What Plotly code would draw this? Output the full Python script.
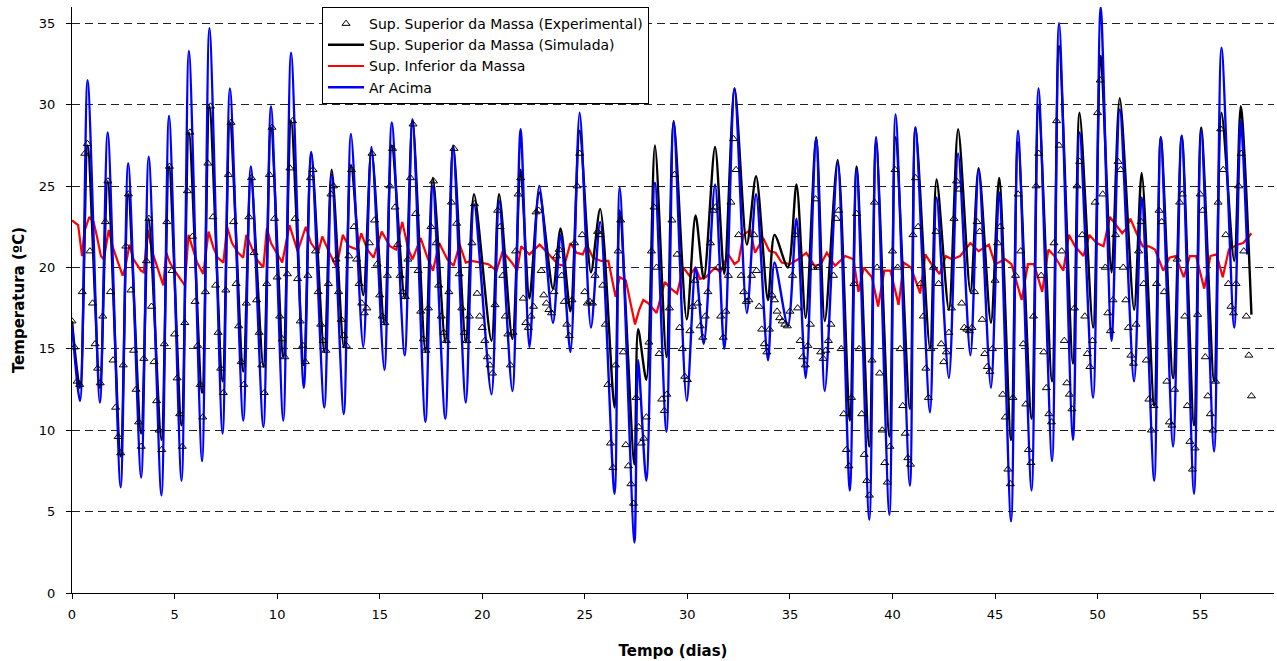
import plotly.graph_objects as go

# ---- cycle timing (days): trough before each daily peak, and the peak ----
trough_t = [0.39, 1.36, 2.37, 3.37, 4.36, 5.34, 6.34, 7.34, 8.35, 9.33,
            10.3, 11.3, 12.3, 13.25, 14.2, 15.23, 16.22, 17.23, 18.2, 19.2,
            20.45, 21.47, 22.3, 23.45, 24.3, 25.3, 26.45, 27.42, 28.0, 28.98,
            29.97, 30.8, 31.8, 32.9, 33.93, 34.9, 35.77, 36.7, 37.92, 38.87,
            39.85, 40.85, 41.83, 42.75, 43.8, 44.8, 45.78, 46.78, 47.78, 48.8,
            49.78, 50.68, 51.78, 52.76, 53.68, 54.7, 55.68, 56.66]
peak_t = [0.76, 1.74, 2.74, 3.74, 4.73, 5.70, 6.70, 7.70, 8.72, 9.70,
          10.68, 11.66, 12.66, 13.6, 14.6, 15.59, 16.6, 17.59, 18.58, 19.6,
          20.82, 21.87, 22.78, 23.82, 24.75, 25.75, 26.7, 27.6, 28.42, 29.33,
          30.4, 31.35, 32.3, 33.35, 34.25, 35.32, 36.28, 37.33, 38.25, 39.2,
          40.15, 41.12, 42.15, 43.2, 44.2, 45.2, 46.12, 47.12, 48.12, 49.12,
          50.15, 51.08, 52.15, 53.08, 54.1, 55.05, 56.04, 56.98]

# ---- Ar Acima (blue) ----
blue_start = (0.0, 16.5)
blue_end = (57.3, 20.8)
blue_trough = [11.8, 11.7, 6.5, 7.1, 6.0, 6.9, 8.1, 9.8, 10.6, 10.2,
               10.6, 12.6, 11.4, 11.0, 15.1, 13.7, 14.6, 10.5, 10.7, 11.7,
               12.2, 12.4, 15.1, 16.6, 14.8, 16.3, 6.1, 3.1, 6.9, 9.9,
               11.8, 15.3, 15.0, 17.2, 14.3, 16.4, 13.2, 12.4, 6.3, 4.5,
               4.8, 6.6, 11.1, 13.2, 14.6, 12.6, 4.4, 6.3, 8.1, 9.4,
               12.0, 15.5, 13.0, 6.9, 9.0, 6.1, 8.7, 16.3]
blue_peak = [31.5, 28.3, 26.4, 26.8, 29.3, 33.3, 34.7, 31.0, 26.2, 29.9,
             33.2, 27.1, 25.7, 28.2, 27.4, 28.9, 29.1, 25.0, 27.4, 23.9,
             24.1, 28.5, 25.0, 22.0, 29.5, 22.8, 24.9, 14.3, 25.2, 28.9,
             20.0, 25.1, 31.0, 24.5, 20.3, 23.0, 27.9, 26.4, 26.0, 28.0,
             29.4, 28.6, 24.3, 27.0, 26.0, 24.6, 28.4, 31.0, 35.0, 28.3,
             36.0, 29.7, 24.3, 28.0, 28.1, 28.4, 33.5, 29.0]

# ---- Sup. Superior da Massa (Simulada) (black) ----
black_start = (0.0, 16.7)
black_end = (57.5, 17.1)
black_trough = [12.6, 12.6, 8.4, 9.8, 9.4, 10.3, 12.3, 13.0, 13.6, 13.9,
                14.5, 14.0, 14.8, 15.1, 18.3, 16.5, 18.1, 14.8, 15.4, 15.4,
                15.5, 15.6, 18.1, 18.7, 17.3, 19.7, 11.4, 7.9, 13.1, 14.5,
                16.8, 19.3, 19.6, 21.4, 18.0, 20.0, 16.9, 16.7, 10.6, 9.0,
                9.6, 11.3, 15.0, 17.4, 18.5, 16.6, 9.4, 10.7, 13.0, 14.1,
                16.3, 19.7, 17.4, 11.5, 13.2, 10.3, 13.0, 20.4]
black_peak = [27.5, 25.3, 24.5, 23.0, 26.2, 28.3, 29.9, 28.9, 25.5, 28.6,
              29.0, 27.0, 26.0, 26.3, 27.2, 27.5, 29.0, 25.5, 27.5, 24.5,
              24.5, 26.0, 24.6, 22.4, 28.4, 23.6, 23.5, 16.2, 27.5, 29.0,
              23.2, 27.4, 31.0, 25.6, 22.0, 25.1, 28.0, 26.6, 26.2, 27.7,
              28.0, 28.6, 25.4, 28.5, 26.1, 25.5, 27.7, 29.9, 33.6, 29.5,
              33.0, 30.4, 25.8, 28.0, 28.1, 28.6, 29.5, 29.9]

# ---- Sup. Inferior da Massa (red) ----
red_t = [0.0, 0.3, 0.49, 0.6, 0.84, 1.05, 1.2, 1.41, 1.55, 1.79, 2.0, 2.2, 2.47, 2.6, 2.8,
         3.0, 3.36, 3.5, 3.69, 3.93, 4.2, 4.45, 4.6, 4.77, 5.0, 5.3, 5.5, 5.68, 5.9,
         6.1, 6.4, 6.55, 6.66, 6.9, 7.1, 7.38, 7.56, 7.8, 8.1, 8.35, 8.5, 8.7, 9.0,
         9.33, 9.5, 9.7, 10.0, 10.25, 10.6, 10.75, 11.0, 11.4, 11.65, 12.0, 12.2,
         12.55, 12.9, 13.2, 13.5, 13.9, 14.1, 14.4, 14.7, 15.1, 15.5, 15.8, 16.1,
         16.4, 16.6, 17.0, 17.3, 17.6, 17.9, 18.3, 18.6, 18.9, 19.2, 19.5, 19.9,
         20.3, 20.7, 21.0, 21.5, 21.7, 21.9, 22.3, 22.8, 23.3, 23.7, 24.0, 24.3,
         24.6, 24.9, 25.1, 25.4, 25.8, 26.15, 26.5, 26.7, 27.0, 27.2, 27.45, 27.65,
         27.85, 28.1, 28.5, 28.9, 29.2, 29.5, 29.8, 30.1, 30.4, 30.62, 30.9, 31.35,
         31.6, 32.0, 32.3, 32.5, 32.73, 33.06, 33.3, 33.7, 34.0, 34.3, 34.6, 35.0,
         35.4, 35.8, 36.2, 36.5, 36.8, 37.2, 37.7, 38.1, 38.34, 38.6, 39.0, 39.3,
         39.6, 39.9, 40.3, 40.55, 40.9, 41.35, 41.6, 41.9, 42.3, 42.6, 42.9, 43.3,
         43.8, 44.2, 44.7, 45.0, 45.5, 45.8, 46.3, 46.6, 46.9, 47.3, 47.6, 47.9,
         48.33, 48.6, 48.9, 49.31, 49.6, 49.95, 50.29, 50.6, 50.9, 51.2, 51.4, 51.6,
         51.9, 52.2, 52.5, 52.8, 53.2, 53.5, 53.8, 54.2, 54.5, 54.8, 55.2, 55.5,
         55.8, 56.1, 56.4, 56.8, 57.1, 57.5]
red_v = [22.9, 22.6, 20.7, 22.2, 23.1, 22.8, 22.0, 20.7, 20.5, 22.3, 21.2, 20.5, 19.5, 20.0, 21.4,
         20.5, 19.8, 19.7, 22.3, 20.9, 19.9, 18.9, 20.9, 20.3, 19.8, 19.3, 18.9, 22.0, 21.1,
         20.3, 19.6, 21.0, 22.2, 21.2, 20.6, 20.3, 22.5, 21.5, 20.9, 20.6, 22.0, 21.4, 20.5,
         20.0, 22.4, 21.5, 20.8, 20.3, 22.6, 22.0, 21.0, 22.5, 21.5, 20.9, 21.9,
         20.9, 20.0, 22.0, 21.3, 21.1, 22.1, 21.1, 20.6, 22.2, 21.3, 21.1, 22.8,
         21.1, 20.5, 21.8, 20.7, 19.8, 21.5, 20.5, 20.1, 21.4, 20.3, 20.4, 20.3,
         20.2, 19.8, 21.0, 20.2, 19.8, 21.3, 20.8, 21.4, 20.7, 20.2, 20.1, 21.5,
         20.9, 20.8, 21.4, 20.6, 20.4, 20.4, 18.2, 19.4, 19.2, 18.0, 16.5, 17.4,
         18.0, 17.8, 17.2, 19.1, 18.7, 18.4, 20.0, 19.5, 20.0, 19.3, 19.4, 20.0,
         19.7, 20.8, 20.2, 20.4, 22.0, 22.3, 20.9, 21.8, 21.0, 20.9, 20.3, 20.2,
         20.5, 20.9, 20.1, 20.2, 20.9, 20.1, 20.7, 20.5, 18.5, 20.0, 19.4, 17.6,
         19.8, 19.8, 17.7, 20.3, 20.0, 18.4, 20.8, 20.2, 19.6, 20.7, 20.5, 20.7,
         21.5, 21.0, 21.4, 20.2, 20.5, 20.2, 18.0, 20.2, 20.2, 18.5, 21.1, 20.7,
         19.8, 22.0, 21.3, 20.7, 22.0, 21.5, 21.3, 23.1, 22.6, 22.1, 22.4, 23.0,
         22.1, 21.3, 21.3, 21.1, 19.8, 20.6, 20.7, 19.4, 20.7, 20.7, 18.7, 20.7,
         20.8, 19.4, 21.1, 21.4, 21.5, 22.1]

# ---- Sup. Superior da Massa (Experimental): one list per day, samples every 3 h ----
exp_vals = [
    [16.7, 15.1, 13.0, 12.8, 18.5, 27.0, 27.6, 21.0],
    [17.8, 15.3, 13.8, 12.9, 17.0, 22.8, 25.3, 18.5],
    [14.3, 11.4, 9.6, 8.6, 14.0, 21.3, 24.5, 18.6],
    [14.9, 12.5, 10.5, 9.0, 14.4, 20.4, 23.0, 17.6],
    [14.2, 11.8, 10.0, 8.8, 15.3, 22.8, 26.2, 19.8],
    [15.9, 13.2, 11.0, 9.0, 16.6, 24.7, 28.3, 21.9],
    [17.9, 15.2, 12.8, 10.8, 18.5, 26.4, 29.9, 23.1],
    [18.9, 16.0, 13.8, 12.3, 18.6, 25.7, 28.9, 22.8],
    [19.0, 16.4, 14.2, 12.8, 17.8, 23.1, 25.5, 20.9],
    [18.0, 16.0, 14.0, 12.3, 19.0, 25.7, 28.6, 23.0],
    [19.4, 17.0, 15.6, 14.5, 19.6, 26.1, 29.0, 23.0],
    [19.3, 16.7, 15.2, 14.2, 19.5, 25.5, 26.0, 21.0],
    [18.5, 16.5, 15.5, 14.9, 19.0, 24.5, 25.0, 20.5],
    [18.5, 16.8, 15.8, 15.2, 20.7, 26.0, 22.5, 20.5],
    [19.0, 17.8, 17.2, 17.5, 21.5, 27.0, 22.9, 20.2],
    [18.3, 17.0, 16.6, 19.5, 25.0, 27.3, 23.7, 21.4],
    [19.5, 18.5, 18.2, 20.5, 25.5, 28.8, 23.3, 19.8],
    [17.3, 15.6, 14.9, 17.5, 22.5, 25.3, 21.5, 18.9],
    [17.0, 16.0, 15.5, 18.5, 24.0, 27.3, 22.7, 19.6],
    [17.5, 16.0, 15.5, 17.0, 21.5, 23.9, 18.4, 17.0],
    [16.3, 15.5, 14.5, 14.0, 13.5, 17.7, 23.5, 22.5],
    [19.5, 17.0, 15.9, 14.0, 16.0, 21.0, 24.5, 25.5],
    [18.1, 16.6, 16.3, 17.0, 17.6, 23.4, 23.5, 19.8],
    [18.3, 17.8, 17.4, 17.2, 18.5, 20.7, 21.1, 19.5],
    [17.9, 16.5, 15.8, 18.0, 21.5, 25.0, 27.0, 22.0],
    [18.5, 17.8, 17.9, 17.8, 19.5, 22.2, 22.0, 18.9],
    [16.5, 12.8, 9.2, 7.7, 14.0, 21.0, 22.9, 14.8],
    [9.1, 7.8, 6.7, 5.5, 12.0, 10.2, 9.2, 9.5],
    [10.8, 15.4, 21.0, 23.7, 20.0, 14.7, 11.9, 11.2],
    [12.2, 17.5, 22.9, 25.7, 20.8, 16.3, 15.0, 13.3],
    [13.1, 16.1, 17.6, 19.2, 17.8, 16.4, 15.7, 17.0],
    [18.5, 21.5, 23.5, 23.7, 20.0, 17.0, 15.7, 17.3],
    [19.5, 24.0, 27.9, 26.0, 22.0, 19.5, 18.5, 17.9],
    [18.0, 19.5, 22.0, 19.8, 17.6, 16.2, 15.3, 14.8],
    [16.2, 18.3, 18.0, 17.3, 16.9, 16.7, 16.5, 16.4],
    [17.3, 19.5, 22.0, 17.5, 15.5, 14.5, 14.0, 15.2],
    [16.5, 20.0, 24.2, 20.0, 14.8, 14.4, 14.9, 15.5],
    [16.5, 19.5, 23.0, 23.5, 15.0, 11.0, 8.8, 7.8],
    [12.0, 19.0, 23.3, 15.0, 11.0, 8.5, 6.9, 6.0],
    [14.3, 24.0, 20.0, 13.5, 10.0, 8.0, 6.8, 9.0],
    [21.0, 26.0, 20.0, 15.0, 11.5, 9.8, 8.3, 7.9],
    [22.0, 25.5, 22.5, 19.0, 17.0, 13.8, 12.0, 15.0],
    [20.0, 22.2, 19.0, 15.3, 14.2, 14.8, 16.0, 17.5],
    [23.0, 25.3, 24.8, 17.8, 16.3, 16.2, 16.1, 16.3],
    [18.5, 22.8, 22.2, 16.8, 14.7, 13.9, 13.6, 15.0],
    [19.2, 21.5, 22.5, 12.2, 10.8, 7.6, 6.7, 12.0],
    [19.5, 24.5, 21.0, 15.3, 11.6, 8.8, 8.0, 17.0],
    [25.0, 27.0, 19.5, 14.8, 12.6, 11.0, 10.5, 21.5],
    [29.0, 27.5, 21.0, 15.5, 12.9, 12.2, 11.3, 17.5],
    [25.0, 26.5, 22.0, 17.0, 14.7, 13.9, 15.5, 24.0],
    [29.5, 31.5, 24.5, 20.0, 17.2, 16.1, 18.0, 22.0],
    [26.5, 26.0, 20.0, 18.0, 16.3, 14.6, 14.1, 16.5],
    [21.0, 22.8, 19.0, 14.3, 11.9, 10.0, 11.5, 19.0],
    [23.5, 22.8, 18.5, 13.0, 10.5, 10.3, 12.5, 20.5],
    [24.0, 24.5, 17.0, 11.5, 9.3, 7.6, 8.9, 17.1],
    [24.5, 23.5, 14.5, 12.1, 11.0, 10.0, 13.0, 24.0],
    [28.5, 26.0, 22.0, 19.0, 17.6, 17.2, 19.0, 25.0],
    [27.0, 21.0, 17.0, 14.6, 12.1],
]
SAMPLE_STEP = 0.125  # days between experimental samples

x_ticks = [0, 5, 10, 15, 20, 25, 30, 35, 40, 45, 50, 55]
y_ticks = [0, 5, 10, 15, 20, 25, 30, 35]


def cycle_series(start, troughs, peaks, end):
    xs, ys = [start[0]], [start[1]]
    for tt, tv, tp, pv in zip(trough_t, troughs, peak_t, peaks):
        xs += [tt, tp]
        ys += [tv, pv]
    xs.append(end[0])
    ys.append(end[1])
    return xs, ys


bx, by = cycle_series(blue_start, blue_trough, blue_peak, blue_end)
kx, ky = cycle_series(black_start, black_trough, black_peak, black_end)

exp_t, exp_v = [], []
for day, vals in enumerate(exp_vals):
    for k, v in enumerate(vals):
        exp_t.append(day + k * SAMPLE_STEP)
        exp_v.append(v)

FONT = "DejaVu Sans, Liberation Sans, Arial, sans-serif"

fig = go.Figure()
fig.add_trace(go.Scatter(x=red_t, y=red_v, mode="lines", name="Sup. Inferior da Massa",
                         line=dict(color="#ff0000", width=2.2), legendrank=3))
fig.add_trace(go.Scatter(x=kx, y=ky, mode="lines", name="Sup. Superior da Massa (Simulada)",
                         line=dict(color="#000000", width=2.4, shape="spline", smoothing=0.8),
                         legendrank=2))
fig.add_trace(go.Scatter(x=bx, y=by, mode="lines", name="Ar Acima",
                         line=dict(color="#0000ff", width=2.4, shape="spline", smoothing=0.8),
                         legendrank=4))
fig.add_trace(go.Scatter(x=exp_t, y=exp_v, mode="markers",
                         name="Sup. Superior da Massa (Experimental)",
                         marker=dict(symbol="triangle-up-open", size=7, color="#000000",
                                     line=dict(width=1)),
                         legendrank=1))

fig.update_layout(
    width=1277, height=661,
    margin=dict(l=72, r=3, t=7, b=68),
    paper_bgcolor="white", plot_bgcolor="white",
    font=dict(family=FONT, size=13, color="black"),
    showlegend=True,
    legend=dict(x=0.208, y=1.0, xanchor="left", yanchor="top",
                bgcolor="white", bordercolor="black", borderwidth=1,
                font=dict(family=FONT, size=14, color="black"),
                itemwidth=36, tracegroupgap=0),
)
fig.update_xaxes(range=[0, 58.6], tickvals=x_ticks, ticks="outside", ticklen=5,
                 tickcolor="black", showline=True, linecolor="black", linewidth=1,
                 showgrid=False, zeroline=False, ticklabelstandoff=4,
                 tickfont=dict(family=FONT, size=13),
                 title=dict(text="<b>Tempo (dias)</b>", font=dict(family=FONT, size=15),
                            standoff=24))
fig.update_yaxes(range=[0, 36], tickvals=y_ticks, ticks="outside", ticklen=5,
                 tickcolor="black", showline=True, linecolor="black", linewidth=1,
                 showgrid=True, gridcolor="#222222", gridwidth=1, griddash="8px,5px",
                 zeroline=False, ticklabelstandoff=8,
                 tickfont=dict(family=FONT, size=13),
                 title=dict(text="<b>Temperatura (ºC)</b>", font=dict(family=FONT, size=15),
                            standoff=10))

fig.write_html("out.html")
